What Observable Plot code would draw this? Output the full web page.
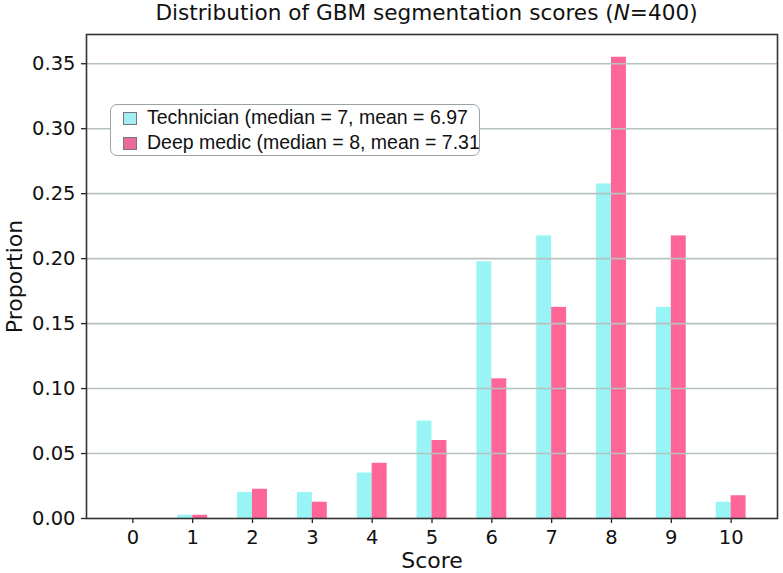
<!DOCTYPE html>
<html>
<head>
<meta charset="utf-8">
<script src="https://cdn.jsdelivr.net/npm/d3@7"></script>
<script src="https://cdn.jsdelivr.net/npm/@observablehq/plot@0.6"></script>
<style>
  body { margin: 0; background: #fff; font-family: "DejaVu Sans", sans-serif; }
  #wrap { position: relative; width: 783px; height: 573px; }
  #title { position: absolute; left: 76px; width: 701px; top: 0; height: 28px; text-align: center; font-size: 21.6px; line-height: 25px; color: #111; white-space: nowrap; }
  #chart { position: absolute; left: 0; top: 30px; }
  #legend { position: absolute; left: 110px; top: 104px; width: 370px; height: 52px; border: 1.3px solid #9aa3a3; border-radius: 7px; background: #fff; box-sizing: border-box; overflow: hidden; }
  .row { position: absolute; left: 12px; height: 22px; font-family: "Liberation Sans", Arial, sans-serif; font-size: 19.5px; line-height: 22px; color: #111; white-space: nowrap; }
  .sw { display: inline-block; width: 14px; height: 13px; margin-right: 10px; vertical-align: -1px; box-sizing: border-box; border: 0.8px solid #777; }
</style>
</head>
<body>
<div id="wrap">
  <div id="title"></div>
  <div id="chart"></div>
  <div id="legend"></div>
</div>
<script>
const scores = [0, 1, 2, 3, 4, 5, 6, 7, 8, 9, 10];
const technician = [0, 0.0025, 0.02, 0.02, 0.035, 0.075, 0.1975, 0.2175, 0.2575, 0.1625, 0.0125];
const deepMedic = [0, 0.0025, 0.0225, 0.0125, 0.0425, 0.06, 0.1075, 0.1625, 0.355, 0.2175, 0.0175];
const seriesNames = ["Technician (median = 7, mean = 6.97", "Deep medic (median = 8, mean = 7.31"];
const seriesColors = ["#98f4f5", "#fe6698"];
const legendColors = ["#a2eef2", "#ec6a9b"];
const yTicks = [0, 0.05, 0.10, 0.15, 0.20, 0.25, 0.30, 0.35];
const titleText = "Distribution of GBM segmentation scores (";
const xLabel = "Score";
const yLabel = "Proportion";
const barWidth = 0.25;

document.getElementById("title").innerHTML = titleText + "<i>N</i>=400)";

const rows = [];
scores.forEach((s, i) => {
  rows.push({score: s, series: 0, value: technician[i]});
  rows.push({score: s, series: 1, value: deepMedic[i]});
});
const fmt = d3.format(".2f");

const plot = Plot.plot({
  width: 783,
  height: 543,
  marginTop: 4,
  marginBottom: 55,
  marginLeft: 86,
  marginRight: 6,
  style: {fontFamily: "DejaVu Sans, sans-serif", fontSize: "19px", color: "#111", background: "#fff"},
  x: {domain: [-0.775, 10.775]},
  y: {domain: [0, 0.3725]},
  marks: [
    Plot.rectY(rows, {
      x1: d => d.series === 0 ? d.score - barWidth : d.score,
      x2: d => d.series === 0 ? d.score : d.score + barWidth,
      y1: 0,
      y2: "value",
      fill: d => seriesColors[d.series]
    }),
    Plot.gridY(yTicks.slice(1), {stroke: "#b6c2c0", strokeOpacity: 1, strokeWidth: 1.6}),
    Plot.axisX({ticks: scores, tickSize: 5, tickFormat: () => "", stroke: "#222", strokeWidth: 1.3, label: null}),
    Plot.axisY({ticks: yTicks, tickSize: 5, tickFormat: () => "", stroke: "#222", strokeWidth: 1.3, label: null}),
    Plot.text(scores, {x: d => d, text: d => String(d), frameAnchor: "bottom", lineAnchor: "top", dy: 12, fontSize: 19.5, fill: "#111"}),
    Plot.text(yTicks, {y: d => d, text: d => fmt(d), frameAnchor: "left", textAnchor: "end", lineAnchor: "middle", dx: -11, fontSize: 19.5, fill: "#111"}),
    Plot.text([xLabel], {text: d => d, frameAnchor: "bottom", textAnchor: "middle", lineAnchor: "bottom", dy: 49, fontSize: 22, fill: "#111"}),
    Plot.text([yLabel], {text: d => d, frameAnchor: "left", textAnchor: "middle", lineAnchor: "middle", dx: -72, rotate: -90, fontSize: 22, fill: "#111"}),
    Plot.frame({stroke: "#333", strokeWidth: 1.6})
  ]
});
document.getElementById("chart").appendChild(plot);

const legend = document.getElementById("legend");
seriesNames.forEach((name, i) => {
  const r = document.createElement("div");
  r.className = "row";
  r.style.top = (1 + i * 25) + "px";
  r.innerHTML = `<span class="sw" style="background:${legendColors[i]}"></span>${name}`;
  legend.appendChild(r);
});
</script>
</body>
</html>
